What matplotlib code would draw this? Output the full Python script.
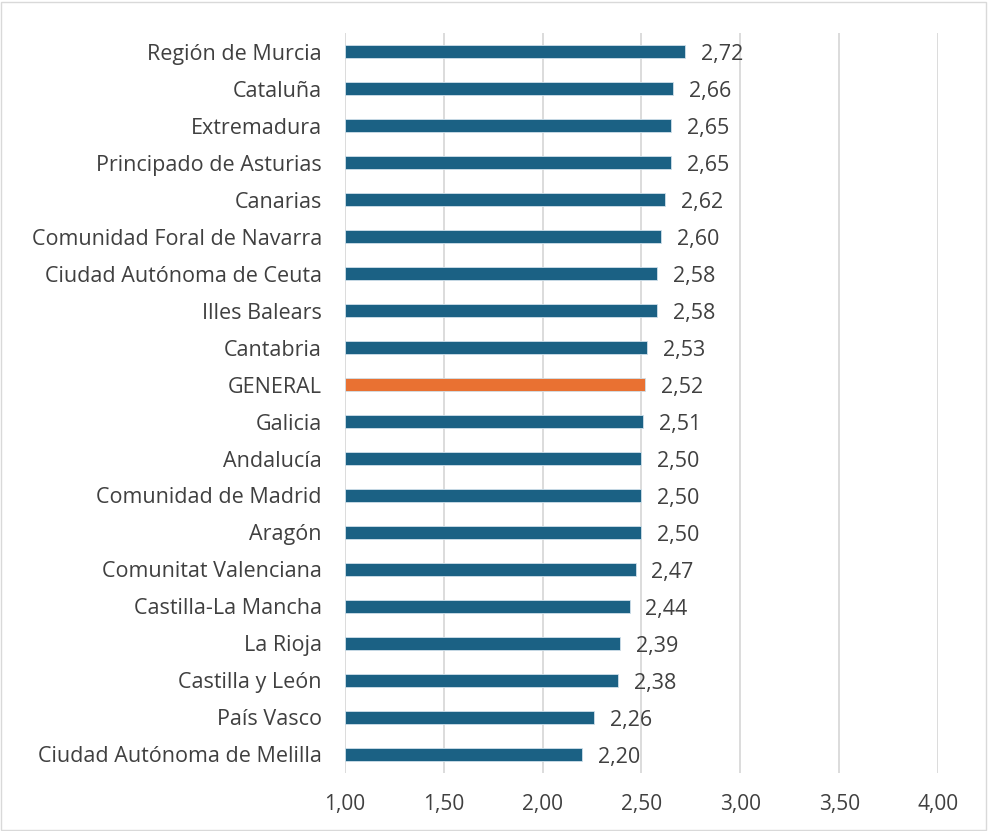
import matplotlib.pyplot as plt
from matplotlib.patches import Rectangle

regiones = ["Región de Murcia", "Cataluña", "Extremadura", "Principado de Asturias",
            "Canarias", "Comunidad Foral de Navarra", "Ciudad Autónoma de Ceuta",
            "Illes Balears", "Cantabria", "GENERAL", "Galicia", "Andalucía",
            "Comunidad de Madrid", "Aragón", "Comunitat Valenciana",
            "Castilla-La Mancha", "La Rioja", "Castilla y León", "País Vasco",
            "Ciudad Autónoma de Melilla"]
valores = [2.72, 2.66, 2.65, 2.65, 2.62, 2.60, 2.58, 2.58, 2.53, 2.52,
           2.51, 2.50, 2.50, 2.50, 2.47, 2.44, 2.39, 2.38, 2.26, 2.20]
ticks = [1.0, 1.5, 2.0, 2.5, 3.0, 3.5, 4.0]

azul = "#1b6184"
naranja = "#e97132"
gris = "#404040"

plt.rcParams['font.family'] = ['Open Sans', 'DejaVu Sans']

fig = plt.figure(figsize=(9.88, 8.31), dpi=100)
ax = fig.add_axes([0.349, 0.070, 0.6005, 0.890])

n = len(regiones)
ypos = list(range(n))[::-1]
colores = [naranja if r == "GENERAL" else azul for r in regiones]
anchos = [v - 1.0 for v in valores]
ax.barh(ypos, anchos, left=1.0, height=0.36, color=colores,
        edgecolor="#cfe0ea", linewidth=0.6, zorder=3)

# etiquetas de valor, un poco por debajo del centro como en el original
for y, v in zip(ypos, valores):
    ax.text(v + 0.08, y - 0.08, f"{v:.2f}".replace(".", ","), va="center", ha="left",
            fontsize=15.5, color=gris)

ax.set_xlim(1.0, 4.0)
ax.set_ylim(-0.5, n - 0.5)
ax.set_yticks(ypos)
ax.set_yticklabels(regiones, fontsize=15.5, color=gris)
ax.set_xticks(ticks)
ax.set_xticklabels([f"{t:.2f}".replace(".", ",") for t in ticks], fontsize=15, color=gris)
ax.tick_params(axis="both", length=0)
ax.tick_params(axis="y", pad=16.5)
ax.tick_params(axis="x", pad=15)
ax.grid(axis="x", color="#d9d9d9", linewidth=1.3, zorder=0)
for s in ax.spines.values():
    s.set_visible(False)

fig.patches.append(Rectangle((0.001, 0.001), 0.997, 0.997, transform=fig.transFigure,
                             fill=False, edgecolor="#d9d9d9", linewidth=1))

fig.savefig("out.png", dpi=100)
